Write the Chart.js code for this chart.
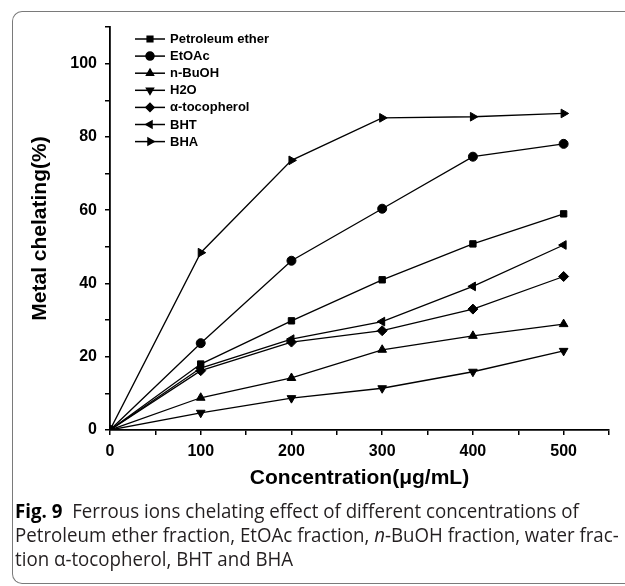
<!DOCTYPE html>
<html>
<head>
<meta charset="utf-8">
<script src="https://cdn.jsdelivr.net/npm/chart.js@4/dist/chart.umd.min.js"></script>
<style>
  body { margin: 0; background: #fff; width: 625px; height: 586px; overflow: hidden; position: relative; }
  #frame { position: absolute; left: 12px; top: 11px; width: 640px; height: 571px;
           border: 1.5px solid #7a7a7a; border-right: none; border-radius: 10px 0 0 10px; }
  #wrap { position: absolute; left: 0; top: 0; width: 625px; height: 500px; }
  #caption { position: absolute; left: 15px; top: 499px; font-family: "Open Sans", sans-serif;
             font-size: 20px; line-height: 24px; color: #231f20; white-space: nowrap;
             transform: scaleX(0.935); transform-origin: 0 0; }
  #caption b { color: #000; }
</style>
</head>
<body>
<div id="frame"></div>
<div id="wrap"><canvas id="myChart"></canvas></div>
<div id="caption"><b>Fig. 9</b>&nbsp; Ferrous ions chelating effect of different concentrations of<br>Petroleum ether fraction, EtOAc fraction, <i>n</i>-BuOH fraction, water frac-<br>tion α-tocopherol, BHT and BHA</div>
<script>
// концентрации, мкг/мл
const concentrations = [0, 100, 200, 300, 400, 500];

const petroleumEther = [0, 18.0, 29.8, 41.0, 50.8, 59.0];
const etoac = [0, 23.7, 46.2, 60.4, 74.6, 78.1];
const nBuOH = [0, 8.8, 14.2, 21.9, 25.7, 28.9];
const h2o = [0, 4.7, 8.7, 11.4, 15.9, 21.6];
const tocopherol = [0, 16.2, 24.0, 27.1, 33.0, 41.9];
const bht = [0, 16.9, 24.8, 29.6, 39.2, 50.5];
const bha = [0, 48.4, 73.6, 85.2, 85.5, 86.4];

const seriesNames = ['Petroleum ether', 'EtOAc', 'n-BuOH', 'H2O', 'α-tocopherol', 'BHT', 'BHA'];
const seriesValues = [petroleumEther, etoac, nBuOH, h2o, tocopherol, bht, bha];
const markers = [
    { style: 'rect', rot: 0, r: 4.5 },
    { style: 'circle', rot: 0, r: 4.5 },
    { style: 'triangle', rot: 0, r: 5 },
    { style: 'triangle', rot: 180, r: 5 },
    { style: 'rectRot', rot: 0, r: 5 },
    { style: 'triangle', rot: -90, r: 5 },
    { style: 'triangle', rot: 90, r: 5 }
];

// Легенда: линия с маркером посередине
const lineLegend = {
    id: 'lineLegend',
    afterDatasetsDraw(chart) {
        const ctx = chart.ctx;
        ctx.save();
        chart.data.datasets.forEach((ds, i) => {
            const y = 39 + i * 17.1;
            ctx.strokeStyle = '#000';
            ctx.lineWidth = 1.5;
            ctx.beginPath();
            ctx.moveTo(135, y);
            ctx.lineTo(165, y);
            ctx.stroke();
            ctx.fillStyle = '#000';
            Chart.helpers.drawPoint(ctx, { pointStyle: ds.pointStyle, rotation: ds.pointRotation, radius: 4, borderWidth: 1 }, 150, y);
            ctx.font = 'bold 13px "Liberation Sans", Arial, sans-serif';
            ctx.textBaseline = 'middle';
            ctx.textAlign = 'left';
            ctx.fillText(ds.label, 170, y + 0.5);
        });
        ctx.restore();
    }
};

const ctx = document.getElementById('myChart').getContext('2d');
new Chart(ctx, {
    type: 'line',
    data: {
        datasets: seriesValues.map((vals, i) => ({
            label: seriesNames[i],
            data: vals.map((v, k) => ({ x: concentrations[k], y: v })),
            borderColor: '#000',
            backgroundColor: '#000',
            borderWidth: 1.3,
            pointStyle: markers[i].style,
            pointRotation: markers[i].rot,
            pointRadius: markers[i].r,
            pointBorderWidth: 1,
            tension: 0,
            fill: false
        }))
    },
    options: {
        responsive: true,
        maintainAspectRatio: false,
        animation: false,
        layout: { padding: { left: 0, right: 16, top: 27, bottom: 0 } },
        plugins: { legend: { display: false }, tooltip: { enabled: false } },
        scales: {
            x: {
                type: 'linear',
                min: 0, max: 550,
                ticks: {
                    stepSize: 50,
                    padding: 7,
                    color: '#000',
                    font: { family: '"Liberation Sans", Arial, sans-serif', size: 16, weight: 'bold' },
                    callback: v => (v % 100 === 0 ? v : '')
                },
                grid: { drawOnChartArea: false, tickLength: 5, color: '#000', lineWidth: 1.5 },
                border: { color: '#000', width: 1.8 },
                title: {
                    display: true,
                    text: 'Concentration(μg/mL)',
                    color: '#000',
                    font: { family: '"Liberation Sans", Arial, sans-serif', size: 21, weight: 'bold' },
                    padding: { top: 0, bottom: 9 }
                },
                afterFit: s => { s.height = 70; }
            },
            y: {
                min: 0, max: 110,
                ticks: {
                    stepSize: 10,
                    padding: 8,
                    color: '#000',
                    font: { family: '"Liberation Sans", Arial, sans-serif', size: 16, weight: 'bold' },
                    callback: v => (v % 20 === 0 ? v : '')
                },
                grid: { drawOnChartArea: false, tickLength: 5, color: '#000', lineWidth: 1.5 },
                border: { color: '#000', width: 1.8 },
                title: {
                    display: true,
                    text: 'Metal chelating(%)',
                    color: '#000',
                    font: { family: '"Liberation Sans", Arial, sans-serif', size: 21, weight: 'bold' },
                    padding: { top: 28, bottom: 0 }
                },
                afterFit: s => { s.width = 110; }
            }
        }
    },
    plugins: [lineLegend]
});
</script>
</body>
</html>
